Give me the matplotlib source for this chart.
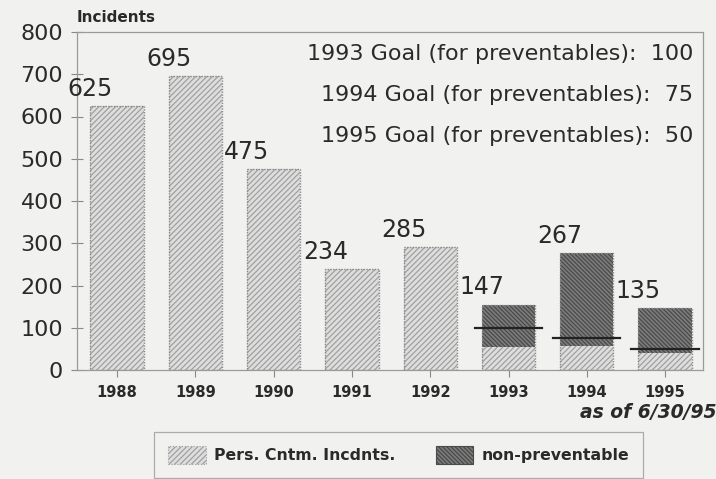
import matplotlib
matplotlib.use("Agg")
import matplotlib.pyplot as plt
from matplotlib.patches import Patch
import numpy as np

years = ["1988", "1989", "1990", "1991", "1992", "1993", "1994", "1995"]
totals = [625, 695, 475, 238, 290, 155, 276, 146]          # bar heights as drawn
labels = ["625", "695", "475", "234", "285", "147", "267", "135"]  # printed values
light_part = [625, 695, 475, 238, 290, 55, 57, 40]          # Pers. Cntm. Incdnts. portion
goal_years = [5, 6, 7]
goals = [100, 75, 50]
goal_texts = ["1993 Goal (for preventables):  100",
              "1994 Goal (for preventables):  75",
              "1995 Goal (for preventables):  50"]
yticks = [0, 100, 200, 300, 400, 500, 600, 700, 800]

BG = "#f1f1ef"
TXT = "#2a2a2a"
plt.rcParams['font.family'] = ['DejaVu Sans']
plt.rcParams['hatch.linewidth'] = 0.9

fig = plt.figure(figsize=(7.16, 4.79), dpi=100, facecolor=BG)
ax = fig.add_axes([77/716, 1-370/479, (703-77)/716, (370-32)/479])
ax.set_facecolor(BG)

x = np.arange(len(years))
w = 0.68
dark_part = [t - l for t, l in zip(totals, light_part)]

LH = "//////"
DH = "\\\\\\\\\\\\\\\\"
ax.bar(x, light_part, w, color="#dedede", edgecolor="#a0a0a0", hatch=LH, linewidth=0)
ax.bar(x, dark_part, w, bottom=light_part, color="#7c7c7c", edgecolor="#4a4a4a",
       hatch=DH, linewidth=0)
ax.bar(x, totals, w, fill=False, edgecolor="#8a8a8a", linewidth=1.0, linestyle=(0, (1, 1)))

for xi, g in zip(goal_years, goals):
    ax.plot([xi - 0.43, xi + 0.43], [g, g], color="#222222", lw=1.6)

for xi, t, lab in zip(x, totals, labels):
    ax.text(xi - w/2, t + 12, lab, ha="center", va="bottom", fontsize=17, color=TXT)

ax.set_xlim(-0.511, 7.484)
ax.set_ylim(0, 800)
ax.set_yticks(yticks)
ax.set_yticklabels([str(v) for v in yticks], fontsize=16, color=TXT)
ax.set_xticks(x)
ax.set_xticklabels(years, fontsize=10.5, color=TXT, fontweight="bold")
ax.tick_params(axis="y", direction="inout", length=8, width=0.8, color="#888888", pad=6)
ax.tick_params(axis="x", direction="out", length=5, width=0.8, color="#888888", pad=6)
for s in ax.spines.values():
    s.set_color("#9a9a9a")
    s.set_linewidth(0.9)
    s.set_linestyle((0, (2, 1)))
ax.spines["left"].set_linestyle("-")
ax.spines["bottom"].set_linestyle("-")

fig.text(77/716, 1-17/479, "Incidents", fontsize=11, fontweight="bold", color=TXT,
         ha="left", va="center")

for i, gt in enumerate(goal_texts):
    fig.text(693/716, 1-(54 + 41*i)/479, gt, fontsize=16, color=TXT, ha="right", va="center")

fig.text(716/716, 1-412/479, "as of 6/30/95", fontsize=13.5, fontweight="bold",
         fontstyle="italic", color=TXT, ha="right", va="center")

handles = [Patch(facecolor="#dedede", edgecolor="#a0a0a0", hatch=LH, lw=0.8, linestyle=":"),
           Patch(facecolor="#7c7c7c", edgecolor="#4a4a4a", hatch=DH, lw=0.8)]
leg = fig.legend(handles, ["Pers. Cntm. Incdnts.", "non-preventable"], ncol=2,
                 loc="center", bbox_to_anchor=((152+645)/2/716, 1-455/479),
                 frameon=True, fancybox=False, edgecolor="#9a9a9a", facecolor=BG,
                 prop={"size": 11.3, "weight": "bold"}, handlelength=2.4, handleheight=1.3,
                 columnspacing=2.6, borderpad=0.9, borderaxespad=0, handletextpad=0.5)
leg._legend_box.align = "center"
for t in leg.get_texts():
    t.set_color(TXT)
leg.get_frame().set_linewidth(0.9)

fig.savefig("out.png", dpi=100, facecolor=BG)
